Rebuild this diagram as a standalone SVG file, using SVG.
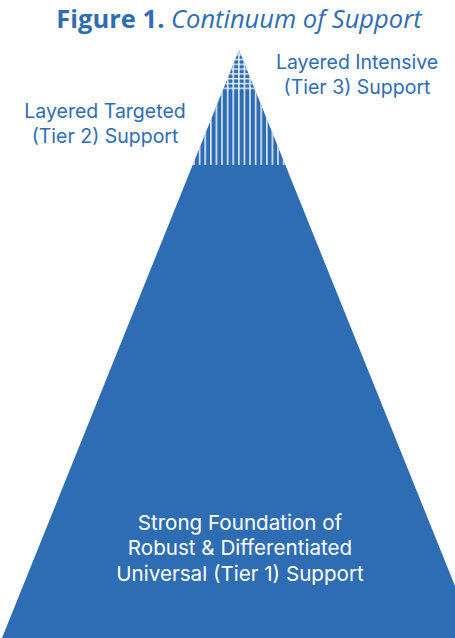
<svg xmlns="http://www.w3.org/2000/svg" width="455" height="638" viewBox="0 0 455 638">
<style>
.t{font-family:"Open Sans","Liberation Sans",sans-serif;fill:#2E6DB4}
.lbl{font-family:Inter,"Open Sans",sans-serif;fill:#2E6DB4;font-size:19.5px;text-anchor:middle}
.w{font-family:Inter,"Open Sans",sans-serif;fill:#ffffff;font-size:20.6px;text-anchor:middle}
</style>
<defs>
<clipPath id="tip"><polygon points="239,50 192.6,165 285.4,165"/></clipPath>
<clipPath id="grid"><rect x="0" y="50" width="455" height="42"/></clipPath>
<pattern id="vstripes" patternUnits="userSpaceOnUse" x="238" y="0" width="5.6" height="10">
<rect x="0" y="0" width="1.6" height="10" fill="#ffffff" fill-opacity="0.85"/>
</pattern>
<pattern id="hstripes" patternUnits="userSpaceOnUse" x="0" y="54" width="10" height="4.8">
<rect x="0" y="0" width="10" height="1.4" fill="#ffffff" fill-opacity="0.85"/>
</pattern>
</defs>
<g id="title">
<text class="t" x="239" y="28" text-anchor="middle" font-size="25.5"><tspan font-weight="bold">Figure 1.</tspan> <tspan font-style="italic">Continuum of Support</tspan></text>
</g>
<g id="pyramid">
<polygon points="239,50 2,638 476,638" fill="#2E6DB4"/>
<rect x="180" y="45" width="120" height="120" fill="url(#vstripes)" clip-path="url(#tip)"/>
<g clip-path="url(#tip)"><rect x="180" y="50" width="120" height="42" fill="url(#hstripes)" clip-path="url(#grid)"/></g>
</g>
<g id="tier3-label">
<text class="lbl" x="357" y="69">Layered Intensive</text>
<text class="lbl" x="357" y="94">(Tier 3) Support</text>
</g>
<g id="tier2-label">
<text class="lbl" x="105" y="118">Layered Targeted</text>
<text class="lbl" x="105" y="143">(Tier 2) Support</text>
</g>
<g id="tier1-label">
<text class="w" x="240" y="530">Strong Foundation of</text>
<text class="w" x="240" y="555">Robust &amp; Differentiated</text>
<text class="w" x="240" y="580.5">Universal (Tier 1) Support</text>
</g>
<g id="connectors"/>
</svg>
